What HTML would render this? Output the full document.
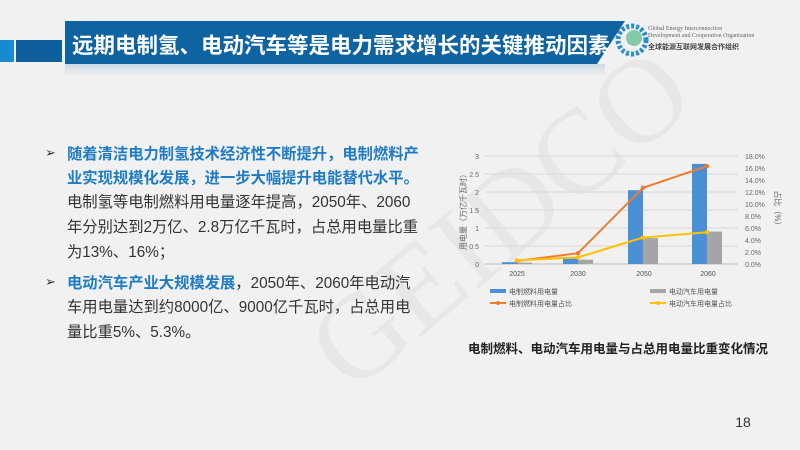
<!DOCTYPE html>
<html><head><meta charset="utf-8"><style>
body{margin:0;width:800px;height:450px;overflow:hidden;background:#f1f1f1;font-family:"Liberation Sans","Noto Sans CJK SC",sans-serif;position:relative}
.t{position:absolute;left:67px;font-size:15.3px;color:#333;white-space:nowrap;line-height:24px}
.b{color:#1f7cc4;font-weight:bold}
.ar{position:absolute;left:45px;font-size:13px;color:#333}
</style></head><body>
<div style="position:absolute;left:0;top:40px;width:14px;height:22px;background:#1a8ad0"></div>
<div style="position:absolute;left:16px;top:40px;width:46px;height:22px;background:#0e5f9e"></div>
<div style="position:absolute;left:65px;top:21px;width:560px;height:43px;background:#0e63a0;clip-path:polygon(0 0,100% 0,95% 100%,0 100%)"></div>
<div style="position:absolute;left:65px;top:64px;width:540px;height:12px;background:linear-gradient(#c9d9e6,#f1f1f1)"></div>
<div style="position:absolute;left:72px;top:29px;font-size:21.5px;font-weight:bold;color:#fff;white-space:nowrap;font-family:'Noto Sans CJK SC',sans-serif">远期电制氢、电动汽车等是电力需求增长的关键推动因素</div>
<svg style="position:absolute;left:612px;top:20px" width="40" height="40"><circle cx="20" cy="20" r="14" fill="none" stroke="#2a8fc8" stroke-width="5" stroke-dasharray="3 2"/><circle cx="22" cy="18" r="8" fill="#3bb07a" opacity=".6"/></svg>
<div style="position:absolute;left:648px;top:26px;font-size:6px;color:#666;font-family:'Liberation Serif',serif;line-height:7px">Global Energy Interconnection<br>Development and Cooperation Organization</div>
<div style="position:absolute;left:648px;top:42px;font-size:7px;color:#444;font-weight:bold">全球能源互联网发展合作组织</div>
<svg style="position:absolute;left:0;top:0" width="800" height="450"><text x="270" y="330" font-size="120" fill="#000" opacity=".035" font-family="Liberation Serif" transform="rotate(-40 400 250)">GEIDCO</text></svg>

<div class="ar" style="top:145px">➢</div>
<div class="t b" style="top:143px">随着清洁电力制氢技术经济性不断提升，电制燃料产</div>
<div class="t b" style="top:167px">业实现规模化发展，进一步大幅提升电能替代水平。</div>
<div class="t" style="top:191px">电制氢等电制燃料用电量逐年提高，2050年、2060</div>
<div class="t" style="top:216px">年分别达到2万亿、2.8万亿千瓦时，占总用电量比重</div>
<div class="t" style="top:241px">为13%、16%；</div>
<div class="ar" style="top:274px">➢</div>
<div class="t" style="top:272px"><span class="b">电动汽车产业大规模发展</span>，2050年、2060年电动汽</div>
<div class="t" style="top:296px">车用电量达到约8000亿、9000亿千瓦时，占总用电</div>
<div class="t" style="top:321px">量比重5%、5.3%。</div>

<svg style="position:absolute;left:0;top:0" width="800" height="450" font-family="Liberation Sans,Noto Sans CJK SC,sans-serif">
<g stroke="#d8d8d8" stroke-width="1">
<line x1="485" x2="738" y1="156" y2="156"/><line x1="485" x2="738" y1="174" y2="174"/><line x1="485" x2="738" y1="192" y2="192"/><line x1="485" x2="738" y1="210" y2="210"/><line x1="485" x2="738" y1="228" y2="228"/><line x1="485" x2="738" y1="246" y2="246"/><line x1="485" x2="738" y1="264" y2="264" stroke="#bbb"/>
</g>
<g font-size="7" fill="#666" text-anchor="end">
<text x="479" y="159">3</text><text x="479" y="177">2.5</text><text x="479" y="195">2</text><text x="479" y="213">1.5</text><text x="479" y="231">1</text><text x="479" y="249">0.5</text><text x="479" y="267">0</text>
</g>
<g font-size="7" fill="#666">
<text x="745" y="159">18.0%</text><text x="745" y="171">16.0%</text><text x="745" y="183">14.0%</text><text x="745" y="195">12.0%</text><text x="745" y="207">10.0%</text><text x="745" y="219">8.0%</text><text x="745" y="231">6.0%</text><text x="745" y="243">4.0%</text><text x="745" y="255">2.0%</text><text x="745" y="267">0.0%</text>
</g>
<text font-size="8" fill="#666" transform="translate(466 210) rotate(-90)" text-anchor="middle">用电量（万亿千瓦时）</text>
<text font-size="8" fill="#666" transform="translate(775 210) rotate(90)" text-anchor="middle">占比（%）</text>
<g fill="#4a90d6">
<rect x="502" y="262.2" width="15" height="1.8"/><rect x="563" y="258.6" width="15" height="5.4"/><rect x="628" y="190.2" width="15" height="73.8"/><rect x="692" y="163.9" width="15" height="100.1"/>
</g>
<g fill="#a5a5a5">
<rect x="517" y="262.6" width="15" height="1.4"/><rect x="578" y="259.7" width="15" height="4.3"/><rect x="643" y="238.1" width="15" height="25.9"/><rect x="707" y="231.6" width="15" height="32.4"/>
</g>
<polyline points="517,261 578,253.2 643,187.8 707,166.2" fill="none" stroke="#ed7d31" stroke-width="2"/>
<polyline points="517,260.4 578,257.4 643,237.6 707,232.2" fill="none" stroke="#ffc000" stroke-width="2"/>
<g fill="#ed7d31"><circle cx="517" cy="261" r="2.2"/><circle cx="578" cy="253.2" r="2.2"/><circle cx="643" cy="187.8" r="2.2"/><circle cx="707" cy="166.2" r="2.2"/></g>
<g fill="#ffc000"><circle cx="517" cy="260.4" r="2.2"/><circle cx="578" cy="257.4" r="2.2"/><circle cx="643" cy="237.6" r="2.2"/><circle cx="707" cy="232.2" r="2.2"/></g>
<g font-size="7" fill="#555" text-anchor="middle">
<text x="517" y="276">2025</text><text x="578" y="276">2030</text><text x="644" y="276">2050</text><text x="708" y="276">2060</text>
</g>
<g font-size="7" fill="#555">
<rect x="490" y="289" width="16" height="4" fill="#4a90d6"/><text x="509" y="294">电制燃料用电量</text>
<rect x="650" y="289" width="16" height="4" fill="#a5a5a5"/><text x="669" y="294">电动汽车用电量</text>
<line x1="490" x2="506" y1="303" y2="303" stroke="#ed7d31" stroke-width="2"/><circle cx="498" cy="303" r="2" fill="#ed7d31"/><text x="509" y="306">电制燃料用电量占比</text>
<line x1="650" x2="666" y1="303" y2="303" stroke="#ffc000" stroke-width="2"/><circle cx="658" cy="303" r="2" fill="#ffc000"/><text x="669" y="306">电动汽车用电量占比</text>
</g>
<text x="618" y="353" font-size="12.5" font-weight="bold" fill="#222" text-anchor="middle">电制燃料、电动汽车用电量与占总用电量比重变化情况</text>
<text x="743" y="427" font-size="14" fill="#333" text-anchor="middle">18</text>
</svg>
</body></html>
